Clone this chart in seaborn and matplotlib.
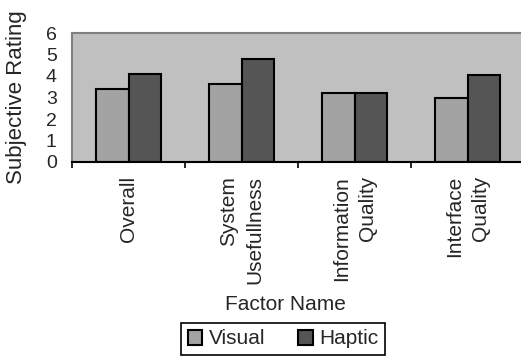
import pandas as pd
import matplotlib
matplotlib.use("Agg")
import matplotlib.pyplot as plt
import seaborn as sns

# values
factors = ["Overall", "System\nUsefullness", "Information\nQuality", "Interface\nQuality"]
visual = [3.4, 3.65, 3.2, 3.0]
haptic = [4.1, 4.8, 3.2, 4.05]
conditions = ["Visual", "Haptic"]
yticks = [0, 1, 2, 3, 4, 5, 6]

#building a long table for seaborn
data = pd.DataFrame({
    "Factor": factors * 2,
    "Rating": visual + haptic,
    "Condition": [conditions[0]] * len(factors) + [conditions[1]] * len(factors),
})

sns.set_style("white")
plt.rcParams["font.family"] = ["Liberation Sans", "DejaVu Sans"]

fig = plt.figure(figsize=(5.21, 3.58), dpi=100)
ax = fig.add_axes([72 / 521, 1 - 162 / 358, 452 / 521, 129 / 358])
ax.set_facecolor("#c0c0c0")

sns.barplot(data=data, x="Factor", y="Rating", hue="Condition",
            palette=["#a3a3a3", "#555555"], edgecolor="black", linewidth=1.5,
            width=0.575, gap=0, ax=ax, legend=True)

#axis limits and ticks
ax.set_xlim(-0.5, 3.5)
ax.set_ylim(0, 6)
ax.set_yticks(yticks)
ax.set_yticklabels([str(t) for t in yticks], fontsize=14)
ax.tick_params(axis="y", length=0, pad=11)
ax.set_xticks(range(len(factors)))
ax.set_xticklabels(factors, rotation=90, ha="center", va="top",
                   multialignment="right", fontsize=15, linespacing=1.45)
ax.set_xticks([-0.5, 0.5, 1.5, 2.5, 3.5], minor=True)
ax.tick_params(axis="x", which="major", length=0, pad=10)
ax.tick_params(axis="x", which="minor", length=4.5, width=1.2, color="black",
               direction="out", bottom=True)

#plot area border
for side in ["top", "left", "right"]:
    ax.spines[side].set_color("#808080")
    ax.spines[side].set_linewidth(1.5)
ax.spines["bottom"].set_color("black")
ax.spines["bottom"].set_linewidth(1.5)

#axis titles
ax.set_ylabel("Subjective Rating", fontsize=16)
ax.yaxis.set_label_coords(-0.1, 0.5)
ax.set_xlabel("Factor Name", fontsize=15)
ax.xaxis.set_label_coords(0.473, -1.03)

#legend below the axis title
ax.legend(loc="center", bbox_to_anchor=(283 / 521, 1 - 339 / 358),
          bbox_transform=fig.transFigure, ncol=2, fontsize=15,
          frameon=True, fancybox=False, edgecolor="black", framealpha=1,
          handlelength=0.7, handleheight=0.7, handletextpad=0.3,
          columnspacing=1.6, borderpad=0.3, borderaxespad=0)
ax.get_legend().get_frame().set_linewidth(1.2)

fig.savefig("out.png", dpi=100)
